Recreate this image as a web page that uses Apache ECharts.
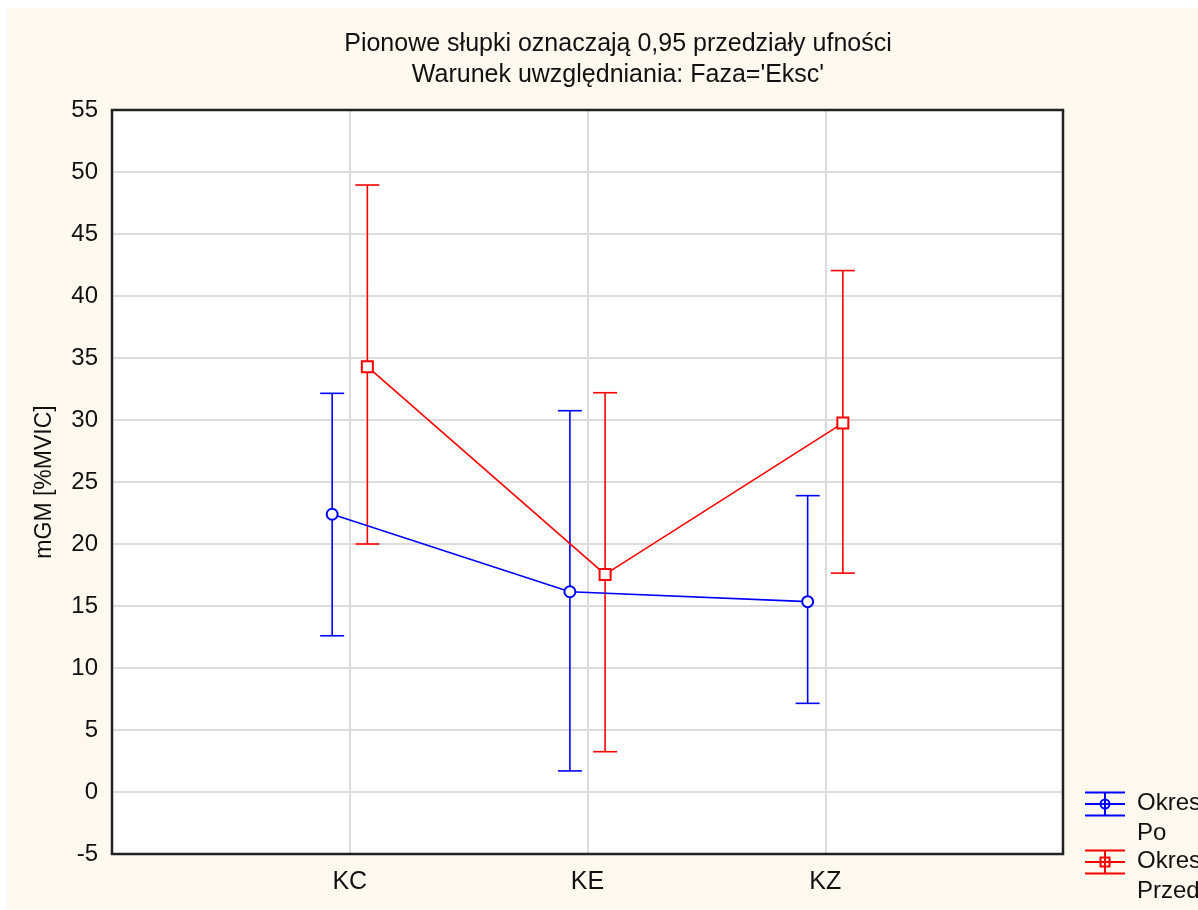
<!DOCTYPE html>
<html><head><meta charset="utf-8">
<script src="https://cdn.jsdelivr.net/npm/echarts@6/dist/echarts.min.js"></script>
<style>
html,body{margin:0;padding:0;background:#fff;}
#c{width:1198px;height:910px;background:linear-gradient(to right,#fff 7px,transparent 7px),linear-gradient(to bottom,#fff 8px,#fef9ef 8px);}
</style></head><body>
<div id="c"></div>
<script>
const categories = ['KC', 'KE', 'KZ'];
const poMean  = [22.4, 16.15, 15.35];
const poLow   = [12.6, 1.7, 7.15];
const poHigh  = [32.15, 30.75, 23.9];
const przedMean = [34.3, 17.55, 29.75];
const przedLow  = [20.0, 3.25, 17.65];
const przedHigh = [48.95, 32.2, 42.05];
const seriesNames = ['Okres\nPo', 'Okres\nPrzed'];
const yTicks = {min: -5, max: 55, interval: 5};
const offset = 0.074;

const blue = '#0000ff', red = '#ff0000';
const font = 'Liberation Sans, Arial, sans-serif';

function pts(vals, dx){ return vals.map((v,i)=>[i+1+dx, v]); }
function bars(low, high, dx){ return low.map((l,i)=>[i+1+dx, l, high[i]]); }

function errRender(color){
  return function(params, api){
    const x = api.value(0);
    const lo = api.coord([x, api.value(1)]);
    const hi = api.coord([x, api.value(2)]);
    const hw = 12;
    const st = {stroke: color, lineWidth: 1.6};
    return {type:'group', children:[
      {type:'line', shape:{x1:lo[0],y1:lo[1],x2:hi[0],y2:hi[1]}, style:st},
      {type:'line', shape:{x1:lo[0]-hw,y1:lo[1],x2:lo[0]+hw,y2:lo[1]}, style:st},
      {type:'line', shape:{x1:hi[0]-hw,y1:hi[1],x2:hi[0]+hw,y2:hi[1]}, style:st}
    ]};
  };
}

function legendItem(y, color, isRect, label){
  const cx = 1105, hw = 20;
  const st = {stroke: color, lineWidth: 2};
  const marker = isRect
    ? {type:'rect', shape:{x:cx-4.5,y:y-4.5,width:9,height:9}, style:{stroke:color, fill:'none', lineWidth:2}}
    : {type:'circle', shape:{cx:cx,cy:y,r:4.5}, style:{stroke:color, fill:'none', lineWidth:2}};
  return [
    {type:'line', shape:{x1:cx-hw,y1:y-11.5,x2:cx+hw,y2:y-11.5}, style:st},
    {type:'line', shape:{x1:cx-hw,y1:y,x2:cx+hw,y2:y}, style:st},
    {type:'line', shape:{x1:cx-hw,y1:y+11.5,x2:cx+hw,y2:y+11.5}, style:st},
    {type:'line', shape:{x1:cx,y1:y-11.5,x2:cx,y2:y+11.5}, style:st},
    marker,
    {type:'text', left:1137, top:y-16, style:{text:label, font:'24px '+font, fill:'#111', lineHeight:30}}
  ];
}

const chart = echarts.init(document.getElementById('c'));
chart.setOption({
  backgroundColor: 'transparent',
  animation: false,
  title: {
    text: 'Pionowe słupki oznaczają 0,95 przedziały ufności\nWarunek uwzględniania: Faza=\'Eksc\'',
    left: 613, top: 24, textAlign: 'center',
    textStyle: {fontFamily: font, fontSize: 25, fontWeight: 'normal', color: '#111', lineHeight: 31}
  },
  grid: {left: 112, right: 135, top: 110, bottom: 56, show: true, backgroundColor: '#fff', borderWidth: 0},
  xAxis: {
    type: 'value', min: 0, max: 4, interval: 1,
    axisLine: {show: false}, axisTick: {show: false},
    splitLine: {show: true, lineStyle: {color: '#dcdcdc', width: 2}},
    axisLabel: {
      margin: 16, fontFamily: font, fontSize: 25, color: '#111',
      formatter: v => (v >= 1 && v <= categories.length && Number.isInteger(v)) ? categories[v-1] : ''
    }
  },
  yAxis: {
    type: 'value', min: yTicks.min, max: yTicks.max, interval: yTicks.interval,
    name: 'mGM [%MVIC]', nameLocation: 'middle', nameGap: 56, nameRotate: 90,
    nameTextStyle: {fontFamily: font, fontSize: 23, color: '#111'},
    axisLine: {show: false}, axisTick: {show: false},
    splitLine: {show: true, lineStyle: {color: '#dcdcdc', width: 2}},
    axisLabel: {margin: 14, fontFamily: font, fontSize: 24, color: '#111'}
  },
  series: [
    {type:'custom', name:'poErr', data: bars(poLow, poHigh, -offset), renderItem: errRender(blue), z: 3, silent: true},
    {type:'custom', name:'przedErr', data: bars(przedLow, przedHigh, offset), renderItem: errRender(red), z: 3, silent: true},
    {type:'line', name: seriesNames[0], data: pts(poMean, -offset), symbol:'emptyCircle', symbolSize: 11,
     lineStyle:{color: blue, width: 1.6}, itemStyle:{color: blue, borderWidth: 2}, z: 4},
    {type:'line', name: seriesNames[1], data: pts(przedMean, offset), symbol:'emptyRect', symbolSize: 11,
     lineStyle:{color: red, width: 1.6}, itemStyle:{color: red, borderWidth: 2}, z: 4}
  ],
  graphic: [].concat(
    [{type:'rect', shape:{x:112, y:110, width:951, height:744}, style:{stroke:'#222', lineWidth:2.5, fill:'none'}, z: 100}],
    legendItem(804, blue, false, seriesNames[0]),
    legendItem(862, red, true, seriesNames[1])
  )
});
</script></body></html>
